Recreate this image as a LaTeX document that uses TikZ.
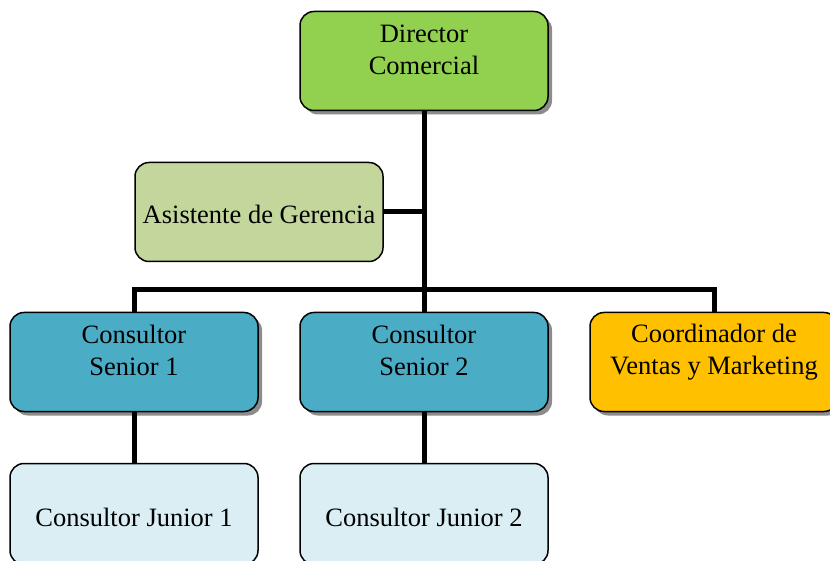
\documentclass[tikz,border=0pt]{standalone}
\usepackage{fontspec}
\setmainfont{Liberation Serif}
\usetikzlibrary{positioning,shadows}
\definecolor{verde}{HTML}{92D050}
\definecolor{verdeclaro}{HTML}{C3D69B}
\definecolor{azul}{HTML}{4BACC6}
\definecolor{azulclaro}{HTML}{DAEEF3}
\definecolor{naranja}{HTML}{FFC000}
\tikzset{
    caja/.style={draw, line width=1.5pt, rounded corners=14pt, minimum width=248pt, minimum height=99pt, inner sep=0pt},
    sombra/.style={drop shadow={shadow xshift=4pt, shadow yshift=-4pt, fill=black!45, opacity=1}},
    txt/.style={align=center, inner sep=0pt, font=\fontsize{26.5}{32}\selectfont},
    unalinea/.style={txt, text height=30pt, text depth=6pt},
    linea/.style={line width=5pt}
}

\begin{document}
\begin{tikzpicture}[x=1pt, y=-1pt]
    \useasboundingbox (0,0) rectangle (830,561);
    % cajas
    \node[caja, sombra, fill=verde] (dir) at (424,61) {};
    \node[txt, below=14pt of dir.north] {Director\\Comercial};
    \node[caja, fill=verdeclaro, unalinea] (asi) at (259,212) {Asistente de Gerencia};
    \node[caja, sombra, fill=azul] (sen1) at (134,362) {};
    \node[txt, below=13pt of sen1.north] {Consultor\\Senior 1};
    \node[caja, sombra, fill=azul] (sen2) at (424,362) {};
    \node[txt, below=13pt of sen2.north] {Consultor\\Senior 2};
    \node[caja, sombra, fill=naranja] (coord) at (714,362) {};
    \node[txt, below=12pt of coord.north] {Coordinador de\\Ventas y Marketing};
    \node[caja, fill=azulclaro, unalinea, minimum height=101pt] (jun1) at (134,514) {Consultor Junior 1};
    \node[caja, fill=azulclaro, unalinea, minimum height=101pt] (jun2) at (424,514) {Consultor Junior 2};
    % lineas
    \coordinate (rama) at (424,290);
    \draw[linea] (dir.south) -- (sen2.north);
    \draw[linea] (asi.east) -- (asi.east -| dir.south);
    \draw[linea] (sen1.north) |- (rama) -| (coord.north);
    \draw[linea] (sen1.south) -- (jun1.north);
    \draw[linea] (sen2.south) -- (jun2.north);
\end{tikzpicture}
\end{document}
